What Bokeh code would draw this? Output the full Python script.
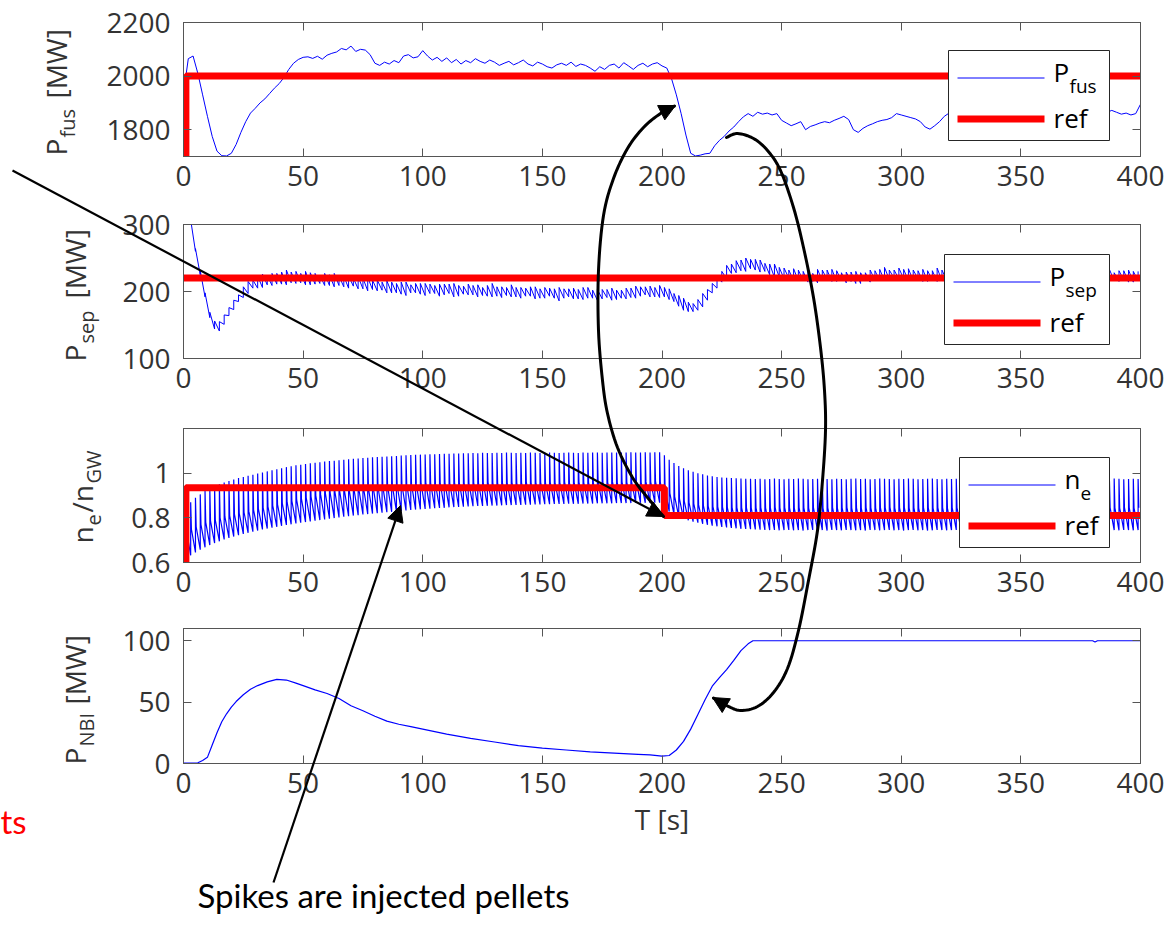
import numpy as np
from bokeh.plotting import figure
from bokeh.models import (Range1d, FixedTicker, LinearAxis, Label, Arrow, NormalHead,
                          CustomJSTickFormatter, GridBox)
from bokeh.embed import file_html
from bokeh.resources import INLINE

# ---------------------------------------------------------------- data
x_ticks = [0, 50, 100, 150, 200, 250, 300, 350, 400]

# fusion power, sampled every 2 s (0..400 s)
t_fus = np.arange(0, 401, 2)
p_fus = [
    1935, 2065, 2075, 2010, 1930, 1850, 1775, 1720, 1703, 1702,
    1712, 1745, 1790, 1830, 1862, 1880, 1900, 1915, 1935, 1955,
    1972, 1995, 2025, 2048, 2062, 2070, 2072, 2066, 2074, 2063,
    2078, 2085, 2090, 2103, 2098, 2112, 2092, 2100, 2097, 2080,
    2048, 2040, 2052, 2045, 2058, 2050, 2075, 2080, 2068, 2072,
    2095, 2075, 2060, 2070, 2055, 2068, 2050, 2062, 2045, 2058,
    2050, 2065, 2055, 2048, 2060, 2052, 2040, 2048, 2055, 2042,
    2050, 2060, 2045, 2038, 2052, 2045, 2035, 2030, 2042, 2048,
    2040, 2052, 2036, 2045, 2040, 2030, 2018, 2035, 2025, 2040,
    2045, 2030, 2050, 2038, 2025, 2040, 2048, 2035, 2045, 2050,
    2038, 2030, 1990, 1930, 1860, 1780, 1712, 1702, 1705, 1710,
    1712, 1740, 1760, 1775, 1795, 1810, 1830, 1848, 1860, 1850,
    1865, 1858, 1862, 1855, 1860, 1835, 1825, 1815, 1822, 1830,
    1800, 1812, 1818, 1825, 1830, 1826, 1835, 1842, 1850, 1838,
    1800, 1790, 1805, 1815, 1822, 1830, 1835, 1838, 1845, 1860,
    1855, 1850, 1845, 1840, 1830, 1810, 1802, 1815, 1830, 1850,
    1862, 1860, 1855, 1858, 1850, 1845, 1840, 1848, 1852, 1845,
    1838, 1845, 1850, 1855, 1848, 1842, 1840, 1850, 1858, 1862,
    1855, 1850, 1845, 1850, 1855, 1860, 1852, 1848, 1850, 1855,
    1860, 1862, 1858, 1865, 1872, 1865, 1858, 1862, 1855, 1860,
    1895,
]
ref_fus_t = [1, 1, 400]
ref_fus_v = [1500, 2000, 2000]

# pellet instants (one every 2 s)
pellet_t = np.arange(1, 400, 2)

# separatrix power: level and half-height of the pellet "hairs" at each pellet
psep_mid = [
    345, 305, 262, 228, 195, 165, 150, 148, 158, 170,
    180, 190, 199, 206, 211, 214, 216, 217, 218, 219,
    220, 221, 221, 221, 220, 220, 219, 219, 218, 218,
    217, 217, 216, 215, 214, 214, 213, 212, 211, 210,
    209, 208, 207, 206, 205, 205, 204, 204, 205, 204,
    203, 204, 203, 202, 203, 204, 202, 201, 202, 203,
    202, 201, 200, 201, 202, 200, 199, 200, 201, 199,
    198, 199, 200, 198, 197, 198, 199, 197, 196, 197,
    198, 197, 196, 197, 198, 196, 195, 196, 197, 196,
    195, 196, 197, 198, 199, 200, 201, 200, 199, 200,
    199, 196, 191, 186, 181, 177, 176, 180, 187, 195,
    205, 214, 222, 229, 234, 237, 239, 240, 241, 240,
    238, 236, 233, 231, 229, 227, 226, 225, 224, 223,
    222, 221, 223, 224, 225, 224, 223, 222, 221, 222,
    221, 220, 222, 223, 224, 225, 226, 225, 226, 227,
    226, 225, 224, 225, 224, 223, 224, 225, 224, 223,
    224, 225, 224, 223, 224, 225, 224, 224, 223, 224,
    225, 224, 223, 224, 225, 224, 223, 224, 225, 224,
    224, 223, 224, 225, 224, 223, 222, 223, 224, 223,
    224, 225, 224, 223, 222, 223, 224, 223, 222, 223,
]
psep_spread = [
    2, 2, 2, 3, 3, 4, 6, 7, 7, 6,
    7, 5, 8, 9, 6, 9, 10, 7, 9, 8,
    9, 11, 8, 9, 7, 10, 9, 8, 6, 9,
    8, 10, 7, 8, 9, 6, 9, 8, 10, 7,
    8, 6, 9, 8, 7, 9, 10, 6, 7, 8,
    9, 7, 6, 9, 8, 7, 10, 8, 6, 8,
    7, 9, 6, 8, 10, 7, 8, 6, 9, 7,
    8, 6, 7, 9, 7, 8, 6, 7, 10, 7,
    6, 8, 7, 9, 8, 6, 8, 7, 6, 9,
    7, 6, 8, 7, 9, 7, 6, 8, 7, 9,
    7, 8, 6, 8, 9, 7, 6, 8, 10, 8,
    7, 9, 8, 10, 7, 9, 8, 10, 7, 8,
    9, 6, 8, 10, 7, 8, 6, 9, 8, 7,
    8, 6, 10, 8, 7, 9, 8, 6, 8, 7,
    9, 8, 6, 9, 7, 8, 10, 7, 6, 8,
    7, 9, 8, 6, 9, 8, 7, 10, 8, 6,
    8, 7, 9, 8, 6, 9, 7, 8, 10, 7,
    8, 10, 6, 8, 7, 9, 8, 6, 9, 8,
    7, 8, 10, 6, 8, 7, 9, 8, 7, 8,
    9, 7, 8, 10, 6, 8, 7, 9, 8, 7,
]
ref_sep_t = [0, 400]
ref_sep_v = [220, 220]

# density (Greenwald fraction): value before the first pellet, then per pellet:
# level just before it (trough), spike top (peak), level after the fast drop (mid)
ne_t0 = [0]
ne_v0 = [0.78]
ne_peak = [
    0.84, 0.87, 0.89, 0.905, 0.92, 0.93, 0.94, 0.95, 0.958, 0.965,
    0.972, 0.978, 0.983, 0.988, 0.993, 0.998, 1.003, 1.008, 1.013, 1.018,
    1.022, 1.027, 1.031, 1.035, 1.038, 1.041, 1.044, 1.047, 1.049, 1.052,
    1.054, 1.056, 1.058, 1.06, 1.062, 1.064, 1.066, 1.068, 1.069, 1.071,
    1.072, 1.074, 1.075, 1.076, 1.077, 1.079, 1.08, 1.081, 1.082, 1.083,
    1.084, 1.085, 1.085, 1.086, 1.087, 1.087, 1.088, 1.088, 1.089, 1.089,
    1.09, 1.089, 1.091, 1.09, 1.09, 1.091, 1.09, 1.092, 1.091, 1.09,
    1.091, 1.09, 1.092, 1.091, 1.09, 1.091, 1.092, 1.091, 1.09, 1.091,
    1.092, 1.091, 1.09, 1.092, 1.091, 1.093, 1.092, 1.091, 1.092, 1.093,
    1.092, 1.093, 1.092, 1.094, 1.093, 1.092, 1.094, 1.093, 1.094, 1.094,
    1.08, 1.06, 1.045, 1.032, 1.022, 1.013, 1.006, 1.0, 0.995, 0.99,
    0.986, 0.983, 0.981, 0.979, 0.978, 0.977, 0.976, 0.975, 0.975, 0.974,
    0.975, 0.973, 0.974, 0.976, 0.974, 0.973, 0.975, 0.974, 0.976, 0.975,
    0.973, 0.974, 0.975, 0.976, 0.974, 0.973, 0.975, 0.974, 0.973, 0.975,
    0.976, 0.974, 0.975, 0.973, 0.974, 0.976, 0.975, 0.974, 0.973, 0.975,
    0.974, 0.976, 0.975, 0.973, 0.974, 0.975, 0.976, 0.974, 0.973, 0.975,
    0.974, 0.975, 0.976, 0.974, 0.973, 0.975, 0.974, 0.976, 0.975, 0.973,
    0.974, 0.975, 0.973, 0.976, 0.974, 0.975, 0.973, 0.974, 0.976, 0.975,
    0.974, 0.973, 0.975, 0.976, 0.974, 0.975, 0.973, 0.974, 0.975, 0.976,
    0.974, 0.973, 0.975, 0.974, 0.976, 0.975, 0.973, 0.974, 0.975, 0.974,
]
ne_mid = [
    0.74, 0.75, 0.76, 0.77, 0.78, 0.785, 0.79, 0.8, 0.805, 0.81,
    0.815, 0.82, 0.825, 0.83, 0.835, 0.84, 0.845, 0.85, 0.855, 0.86,
    0.865, 0.87, 0.875, 0.88, 0.885, 0.89, 0.895, 0.9, 0.905, 0.91,
    0.912, 0.915, 0.918, 0.92, 0.922, 0.925, 0.928, 0.93, 0.932, 0.935,
    0.937, 0.94, 0.942, 0.944, 0.946, 0.948, 0.95, 0.951, 0.952, 0.953,
    0.954, 0.955, 0.953, 0.956, 0.955, 0.954, 0.957, 0.955, 0.956, 0.954,
    0.957, 0.955, 0.956, 0.958, 0.955, 0.956, 0.957, 0.955, 0.958, 0.956,
    0.957, 0.959, 0.956, 0.957, 0.958, 0.956, 0.959, 0.957, 0.958, 0.96,
    0.957, 0.958, 0.96, 0.958, 0.959, 0.957, 0.96, 0.958, 0.959, 0.961,
    0.958, 0.96, 0.959, 0.961, 0.96, 0.958, 0.961, 0.96, 0.962, 0.96,
    0.93, 0.91, 0.895, 0.885, 0.875, 0.868, 0.862, 0.858, 0.855, 0.852,
    0.85, 0.849, 0.848, 0.847, 0.846, 0.846, 0.845, 0.845, 0.844, 0.845,
    0.846, 0.844, 0.845, 0.847, 0.844, 0.846, 0.845, 0.843, 0.846, 0.845,
    0.844, 0.846, 0.845, 0.843, 0.845, 0.846, 0.844, 0.845, 0.847, 0.844,
    0.845, 0.843, 0.846, 0.845, 0.844, 0.846, 0.845, 0.847, 0.844, 0.845,
    0.846, 0.844, 0.845, 0.843, 0.846, 0.845, 0.844, 0.846, 0.845, 0.843,
    0.845, 0.846, 0.844, 0.845, 0.847, 0.844, 0.845, 0.843, 0.846, 0.845,
    0.844, 0.846, 0.845, 0.844, 0.843, 0.845, 0.846, 0.844, 0.845, 0.847,
    0.845, 0.844, 0.846, 0.845, 0.843, 0.845, 0.846, 0.844, 0.845, 0.846,
    0.844, 0.845, 0.843, 0.846, 0.845, 0.844, 0.846, 0.845, 0.844, 0.845,
]
ne_trough = [
    0.625, 0.632, 0.645, 0.657, 0.668, 0.678, 0.687, 0.695, 0.703, 0.71,
    0.716, 0.722, 0.728, 0.733, 0.738, 0.743, 0.748, 0.752, 0.756, 0.76,
    0.764, 0.768, 0.771, 0.775, 0.778, 0.781, 0.784, 0.787, 0.79, 0.793,
    0.796, 0.799, 0.802, 0.805, 0.807, 0.81, 0.812, 0.815, 0.817, 0.819,
    0.821, 0.823, 0.825, 0.827, 0.829, 0.831, 0.833, 0.835, 0.837, 0.838,
    0.84, 0.841, 0.843, 0.844, 0.845, 0.847, 0.848, 0.849, 0.85, 0.851,
    0.852, 0.853, 0.853, 0.854, 0.855, 0.855, 0.856, 0.857, 0.857, 0.858,
    0.858, 0.859, 0.859, 0.86, 0.86, 0.861, 0.861, 0.862, 0.862, 0.862,
    0.863, 0.863, 0.863, 0.864, 0.864, 0.864, 0.865, 0.865, 0.865, 0.865,
    0.866, 0.866, 0.866, 0.866, 0.867, 0.867, 0.867, 0.867, 0.868, 0.868,
    0.845, 0.828, 0.815, 0.805, 0.796, 0.789, 0.783, 0.778, 0.773, 0.769,
    0.765, 0.762, 0.759, 0.757, 0.755, 0.753, 0.751, 0.75, 0.749, 0.748,
    0.747, 0.746, 0.745, 0.746, 0.744, 0.745, 0.746, 0.744, 0.745, 0.743,
    0.745, 0.746, 0.744, 0.745, 0.743, 0.746, 0.745, 0.744, 0.746, 0.745,
    0.744, 0.745, 0.743, 0.746, 0.745, 0.744, 0.745, 0.746, 0.744, 0.745,
    0.743, 0.745, 0.746, 0.744, 0.745, 0.743, 0.744, 0.746, 0.745, 0.744,
    0.745, 0.746, 0.744, 0.743, 0.745, 0.746, 0.744, 0.745, 0.743, 0.745,
    0.746, 0.744, 0.745, 0.743, 0.745, 0.746, 0.744, 0.745, 0.744, 0.746,
    0.745, 0.743, 0.744, 0.746, 0.745, 0.744, 0.743, 0.745, 0.746, 0.744,
    0.745, 0.744, 0.746, 0.743, 0.745, 0.744, 0.746, 0.745, 0.744, 0.745,
]
ref_ne_t = [1, 1, 201, 201, 400]
ref_ne_v = [0.5, 0.935, 0.935, 0.81, 0.81]

# neutral beam power
t_nbi = [0, 3, 6, 8, 10, 12, 14, 16, 18, 20, 22, 25, 28, 31, 35, 39, 43, 47, 50, 55,
         60, 65, 70, 75, 80, 85, 90, 95, 100, 110, 120, 130, 140, 150, 160, 170, 180, 190,
         195, 200, 203, 206, 209, 212, 215, 218, 221, 224, 227, 230, 233, 236, 238, 240,
         300, 350, 380, 381, 382, 400]
p_nbi = [0.4, 0.4, 0.6, 2.5, 5, 15, 25, 34, 40.5, 46, 50.5, 56, 60.5, 63.5, 66.5, 68.5, 68,
         65.5, 63.5, 60, 57, 53, 47, 43, 38.5, 34.5, 32, 30, 28, 24, 20.5, 17.5, 14.5, 12.5,
         11, 9.5, 8.5, 7.5, 7, 6, 6.5, 11, 18, 28, 40, 52, 63, 70, 76.5, 84, 92, 97.5, 100,
         100, 100, 100, 100, 99, 100, 100]

y_ranges = [(1700, 2200), (100, 300), (0.6, 1.2), (0, 110)]
y_ticks = [[1800, 2000, 2200], [100, 200, 300], [0.6, 0.8, 1.0], [0, 50, 100]]

# ---------------------------------------------------------------- style / layout
FONT = "Open Sans"
ANN_FONT = "Lato"
TXT = "#333333"
AXC = "#555555"
BLUE = "#0000FF"
RED = "#FF0000"
TICK_FS = "28px"

PAGE_W, PAGE_H = 1169, 925
FRAME_L, FRAME_W = 183, 957
FIG_TOP = [0, 205, 412, 612]
FIG_H = [205, 207, 200, 313]
FRAME_T = [22, 224, 428, 628]
FRAME_H = [134, 134, 134, 135]


def style_axis(ax, show_labels=True):
    ax.major_tick_in = 8
    ax.major_tick_out = 0
    ax.minor_tick_in = 0
    ax.minor_tick_out = 0
    ax.axis_line_color = AXC
    ax.major_tick_line_color = AXC
    ax.major_label_text_font = FONT
    if show_labels:
        ax.major_label_text_font_size = TICK_FS
        ax.major_label_text_color = TXT
    else:
        ax.major_label_text_font_size = "1px"
        ax.major_label_text_color = None
        ax.major_label_standoff = 0


def make_fig(k):
    bt = FRAME_T[k] - FIG_TOP[k]
    bb = FIG_H[k] - bt - FRAME_H[k]
    p = figure(width=PAGE_W, height=FIG_H[k], x_range=Range1d(0, 400),
               y_range=Range1d(*y_ranges[k]), x_axis_type=None, y_axis_type=None,
               output_backend="svg", toolbar_location=None,
               min_border_left=FRAME_L, min_border_right=PAGE_W - FRAME_L - FRAME_W,
               min_border_top=bt, min_border_bottom=bb)
    p.outline_line_color = AXC
    p.background_fill_color = "white"
    p.border_fill_color = "white"
    xb = LinearAxis(ticker=FixedTicker(ticks=x_ticks))
    style_axis(xb)
    xb.major_label_standoff = 9
    p.add_layout(xb, "below")
    xt = LinearAxis(ticker=FixedTicker(ticks=x_ticks))
    style_axis(xt, False)
    p.add_layout(xt, "above")
    yl = LinearAxis(ticker=FixedTicker(ticks=y_ticks[k]))
    style_axis(yl)
    yl.major_label_standoff = 13
    if k == 2:
        yl.formatter = CustomJSTickFormatter(code="return String(Math.round(tick * 10) / 10);")
    p.add_layout(yl, "left")
    yr = LinearAxis(ticker=FixedTicker(ticks=y_ticks[k]))
    style_axis(yr, False)
    p.add_layout(yr, "right")
    return p


figs = [make_fig(k) for k in range(4)]

# ---- panel 1: fusion power
figs[0].line(t_fus, p_fus, line_color=BLUE, line_width=1)
figs[0].line(ref_fus_t, ref_fus_v, line_color=RED, line_width=7)

# ---- panel 2: separatrix power
lo = np.array(psep_mid, float) - np.array(psep_spread, float)
hi = np.array(psep_mid, float) + np.array(psep_spread, float)
figs[1].line(np.repeat(pellet_t, 2), np.column_stack([lo, hi]).ravel(),
             line_color=BLUE, line_width=1)
figs[1].line(ref_sep_t, ref_sep_v, line_color=RED, line_width=7)

# ---- panel 3: density (trough -> spike -> fast drop -> slow decay to next trough)
ne_x = np.concatenate([ne_t0, np.column_stack([pellet_t, pellet_t, pellet_t + 0.3]).ravel()])
ne_y = np.concatenate([ne_v0, np.column_stack([ne_trough, ne_peak, ne_mid]).ravel()])
figs[2].line(ne_x, ne_y, line_color=BLUE, line_width=1.2)
figs[2].line(ref_ne_t, ref_ne_v, line_color=RED, line_width=7)

# ---- panel 4: NBI power
figs[3].line(t_nbi, p_nbi, line_color=BLUE, line_width=1.2)
x4 = figs[3].below[0]
x4.axis_label = "T [s]"
x4.axis_label_text_font = FONT
x4.axis_label_text_font_size = TICK_FS
x4.axis_label_text_font_style = "normal"
x4.axis_label_text_color = TXT
x4.axis_label_standoff = 4

# ---------------------------------------------------------------- overlay (page px)
ov = figure(width=PAGE_W, height=PAGE_H, x_range=Range1d(0, PAGE_W),
            y_range=Range1d(PAGE_H, 0), x_axis_type=None, y_axis_type=None,
            output_backend="svg", toolbar_location=None,
            min_border_left=0, min_border_right=0, min_border_top=0, min_border_bottom=0)
ov.outline_line_color = None
ov.background_fill_color = None
ov.border_fill_color = None
try:
    ov.frame_align = False
except AttributeError:
    pass


def text(x, y, s, size, color="#000000", font=FONT, angle=0.0):
    # (x, y) is the start of the text baseline; place the text box by its middle
    shift = 0.39 * size
    if angle:
        x = x - shift
    else:
        y = y - shift
    ov.add_layout(Label(x=x, y=y, text=s, text_font=font, text_font_size=f"{size}px",
                        text_color=color, angle=angle, text_align="left",
                        text_baseline="middle"))


# rotated y-axis labels with subscripts: (text, baseline x, start y, size)
YLAB = [
    [("P", 66, 155, 28), ("fus", 75, 137, 20), ("[MW]", 66, 98, 28)],
    [("P", 85, 361, 28), ("sep", 94, 343, 20), ("[MW]", 85, 298, 28)],
    [("n", 92, 543, 28), ("e", 101, 525, 20), ("/n", 92, 512, 28), ("GW", 101, 483, 20)],
    [("P", 85, 764, 28), ("NBI", 94, 746, 20), ("[MW]", 85, 704, 28)],
]
for pieces in YLAB:
    for s, bx, sy, fs in pieces:
        text(bx, sy, s, fs, color=TXT, angle=np.pi / 2)

# legend boxes: (left, top, width, main label, subscript)
LEGS = [(948, 50, 161, "P", "fus"), (944, 254, 165, "P", "sep"), (959, 457, 150, "n", "e")]
for L, T, W, main, sub in LEGS:
    ov.quad(left=L, right=L + W, top=T, bottom=T + 90, fill_color="white",
            line_color="#262626", line_width=1)
    ov.line([L + 9, L + 96], [T + 27.5, T + 27.5], line_color=BLUE, line_width=1)
    ov.line([L + 9, L + 96], [T + 68.5, T + 68.5], line_color=RED, line_width=7)
    text(L + 105, T + 32, main, 26)
    text(L + 121, T + 43, sub, 19)
    text(L + 105, T + 78, "ref", 26)


def smooth(pts, n=8):
    P = np.array(pts, float)
    P = np.vstack([P[0], P, P[-1]])
    out = []
    for i in range(1, len(P) - 2):
        p0, p1, p2, p3 = P[i - 1], P[i], P[i + 1], P[i + 2]
        for s in np.linspace(0, 1, n, endpoint=False):
            out.append(0.5 * (2 * p1 + (-p0 + p2) * s + (2 * p0 - 5 * p1 + 4 * p2 - p3) * s * s
                              + (-p0 + 3 * p1 - 3 * p2 + p3) * s ** 3))
    out.append(P[-2])
    return np.array(out)


ARROWS = [
    (np.array([(12, 170), (663, 516)], float), 2.2),
    (np.array([(273, 882), (400, 505)], float), 2.2),
    (smooth([(663, 516), (647, 497), (632, 477), (617, 447), (607, 413), (602, 380),
             (598, 330), (598, 270), (603, 215), (613, 178), (627, 148), (643, 127),
             (660, 113), (675, 105)]), 3),
    (smooth([(726, 137), (737, 133), (753, 138), (767, 150), (780, 170), (793, 207),
             (803, 247), (813, 297), (820, 347), (824, 390), (825, 430), (822, 480),
             (817, 530), (808, 580), (798, 630), (787, 668), (773, 692), (757, 706),
             (740, 710), (726, 705), (712, 697)]), 3),
]
for pts, lw in ARROWS:
    if len(pts) > 2:
        ov.line(pts[:-1, 0], pts[:-1, 1], line_color="black", line_width=lw,
                line_join="round", line_cap="round")
    ov.add_layout(Arrow(x_start=float(pts[-2, 0]), y_start=float(pts[-2, 1]),
                        x_end=float(pts[-1, 0]), y_end=float(pts[-1, 1]),
                        end=NormalHead(size=16, fill_color="black", line_color="black",
                                       line_width=1),
                        line_color="black", line_width=lw))

text(197, 907, "Spikes are injected pellets", 33, font=ANN_FONT)
text(0, 833, "ts", 33, color=RED, font=ANN_FONT)

grid = GridBox(children=[(figs[0], 0, 0), (figs[1], 1, 0), (figs[2], 2, 0),
                         (figs[3], 3, 0), (ov, 0, 0, 4, 1)], spacing=0)
open("out.html", "w").write(file_html(grid, INLINE))
